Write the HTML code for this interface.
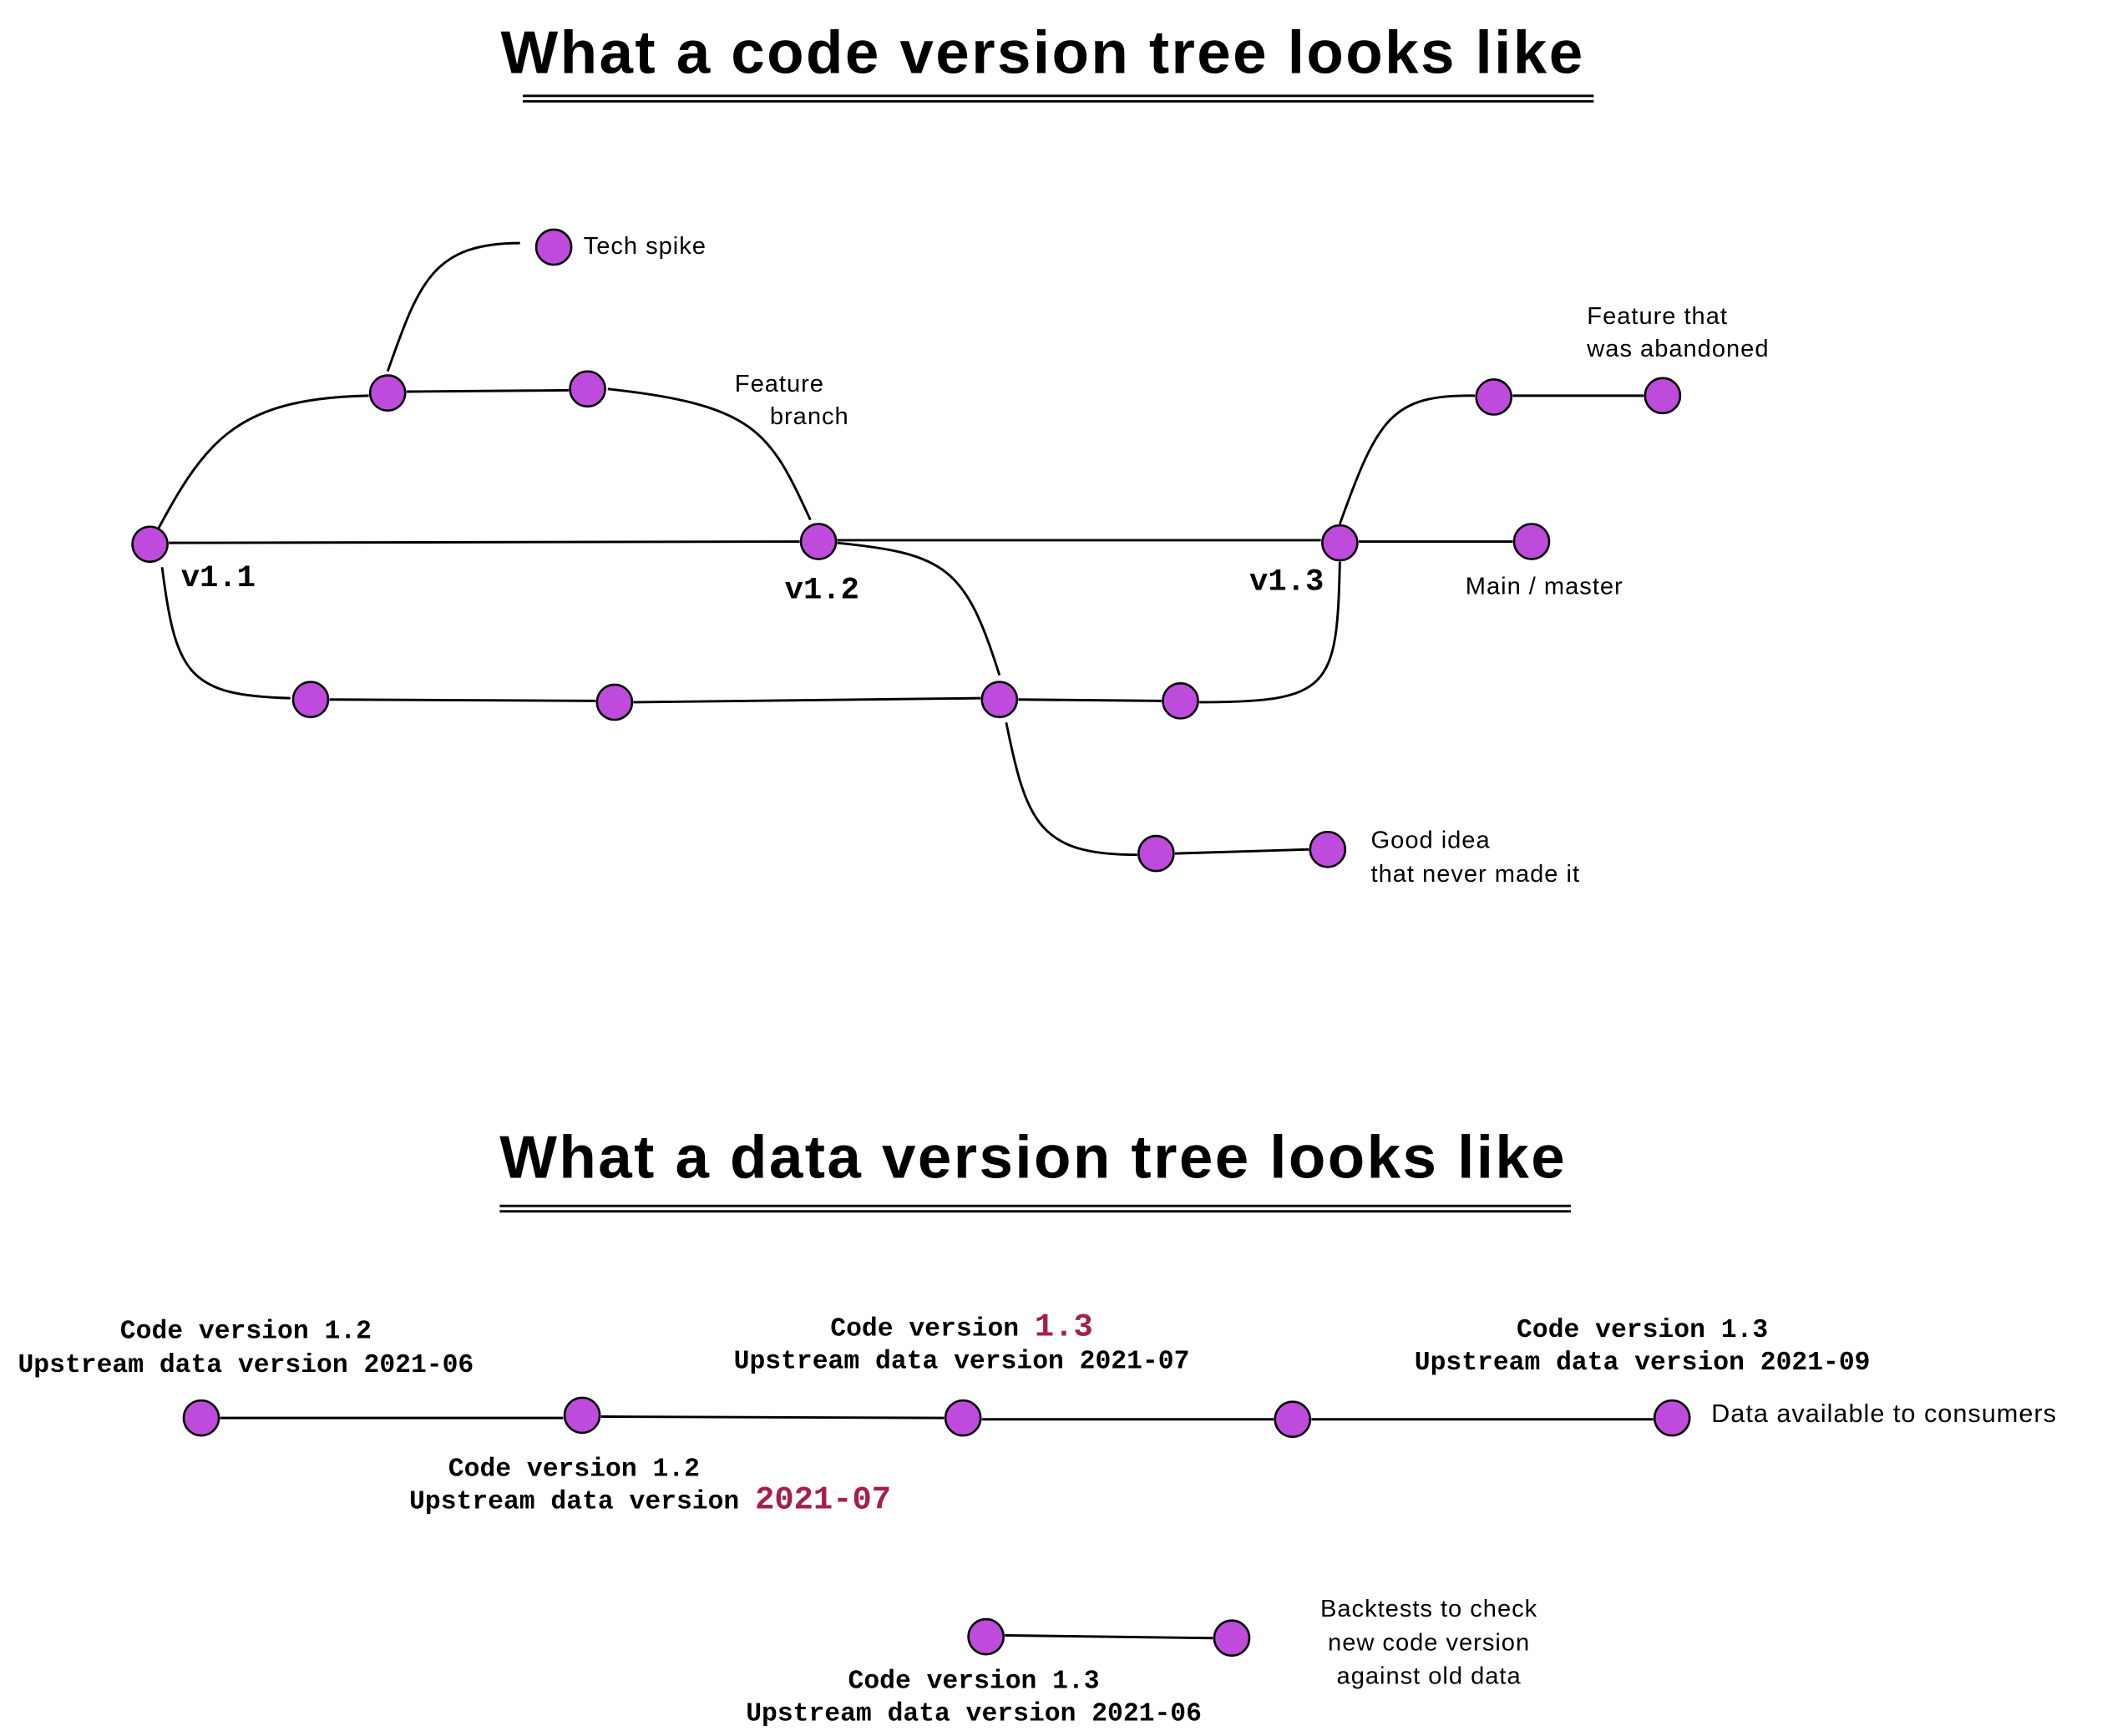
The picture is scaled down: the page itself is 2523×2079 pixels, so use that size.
<!DOCTYPE html>
<html><head><meta charset="utf-8"><style>
html,body{margin:0;padding:0;background:#fff}
svg{display:block}
.h{font-family:"Liberation Sans",sans-serif;font-size:18px;letter-spacing:0.6px;fill:#000}
.m{font-family:"Liberation Mono",monospace;font-size:19.4px;fill:#000;font-weight:bold}
.v{font-family:"Liberation Mono",monospace;font-size:23px;fill:#000;font-weight:bold}
.t{font-family:"Liberation Sans",sans-serif;font-size:45px;letter-spacing:1.5px;fill:#000;font-weight:bold}
.r{fill:#a61e4d;font-size:24px}
line,path{stroke:#000;stroke-width:1.8;fill:none}
circle{fill:#be4bdb;stroke:#000;stroke-width:1.6}
</style></head><body>
<svg width="2523" height="2079" viewBox="0 0 1560 1285.5" xmlns="http://www.w3.org/2000/svg">
<text class="t" x="772" y="54" text-anchor="middle">What a code version tree looks like</text>
<line x1="387" y1="71" x2="1180" y2="71"/><line x1="387" y1="75" x2="1180" y2="75"/>
<text class="t" x="765" y="872" text-anchor="middle">What a data version tree looks like</text>
<line x1="370" y1="893" x2="1163" y2="893"/><line x1="370" y1="897" x2="1163" y2="897"/>

<path d="M111,403 C150,330 170,295 273,293"/>
<path d="M287,275 C310,210 320,180 385,180"/>
<line x1="301" y1="290" x2="421" y2="289"/>
<path d="M450,288 C560,300 570,320 600,385"/>
<line x1="125" y1="402" x2="592" y2="401"/>
<line x1="620" y1="400" x2="978" y2="400"/>
<line x1="1006" y1="401" x2="1120" y2="401"/>
<path d="M992,388 C1020,310 1030,292 1092,293"/>
<line x1="1120" y1="293" x2="1217" y2="293"/>
<path d="M120,420 C130,500 140,515 215,517"/>
<line x1="244" y1="518" x2="441" y2="519"/>
<line x1="469" y1="520" x2="726" y2="517"/>
<line x1="754" y1="518" x2="860" y2="519"/>
<path d="M620,402 C700,410 715,420 740,500"/>
<path d="M888,520 C985,520 990,510 992,416"/>
<path d="M745,535 C760,610 770,633 842,633"/>
<line x1="870" y1="632" x2="969" y2="629"/>

<circle cx="410" cy="183" r="13"/>
<circle cx="287" cy="291" r="13"/>
<circle cx="435" cy="288" r="13"/>
<circle cx="111" cy="403" r="13"/>
<circle cx="606" cy="401" r="13"/>
<circle cx="992" cy="402" r="13"/>
<circle cx="1134" cy="401" r="13"/>
<circle cx="1106" cy="294" r="13"/>
<circle cx="1231" cy="293" r="13"/>
<circle cx="230" cy="518" r="13"/>
<circle cx="455" cy="520" r="13"/>
<circle cx="740" cy="518" r="13"/>
<circle cx="874" cy="519" r="13"/>
<circle cx="856" cy="632" r="13"/>
<circle cx="983" cy="629" r="13"/>

<text class="h" x="432" y="188">Tech spike</text>
<text class="h" x="544" y="290">Feature</text>
<text class="h" x="570" y="314">branch</text>
<text class="h" x="1175" y="240">Feature that</text>
<text class="h" x="1175" y="264">was abandoned</text>
<text class="h" x="1085" y="440">Main / master</text>
<text class="h" x="1015" y="628">Good idea</text>
<text class="h" x="1015" y="653">that never made it</text>
<text class="v" x="134" y="434">v1.1</text>
<text class="v" x="581" y="443">v1.2</text>
<text class="v" x="925" y="437">v1.3</text>

<line x1="163" y1="1050" x2="417" y2="1050"/>
<line x1="445" y1="1049" x2="699" y2="1050"/>
<line x1="727" y1="1051" x2="943" y2="1051"/>
<line x1="971" y1="1051" x2="1224" y2="1051"/>
<line x1="744" y1="1211" x2="898" y2="1213"/>
<circle cx="149" cy="1050" r="13"/>
<circle cx="431" cy="1048" r="13"/>
<circle cx="713" cy="1050" r="13"/>
<circle cx="957" cy="1051" r="13"/>
<circle cx="1238" cy="1050" r="13"/>
<circle cx="730" cy="1212" r="13"/>
<circle cx="912" cy="1213" r="13"/>

<text class="m" x="182" y="991" text-anchor="middle">Code version 1.2</text>
<text class="m" x="182" y="1016" text-anchor="middle">Upstream data version 2021-06</text>
<text class="m" x="712" y="989" text-anchor="middle">Code version <tspan class="r">1.3</tspan></text>
<text class="m" x="712" y="1013" text-anchor="middle">Upstream data version 2021-07</text>
<text class="m" x="1216" y="990" text-anchor="middle">Code version 1.3</text>
<text class="m" x="1216" y="1014" text-anchor="middle">Upstream data version 2021-09</text>
<text class="m" x="425" y="1093" text-anchor="middle">Code version 1.2</text>
<text class="m" x="303" y="1117">Upstream data version <tspan class="r">2021-07</tspan></text>
<text class="m" x="721" y="1250" text-anchor="middle">Code version 1.3</text>
<text class="m" x="721" y="1274" text-anchor="middle">Upstream data version 2021-06</text>
<text class="h" x="1267" y="1053" style="font-size:19px">Data available to consumers</text>
<text class="h" x="1058" y="1197" text-anchor="middle">Backtests to check</text>
<text class="h" x="1058" y="1222" text-anchor="middle">new code version</text>
<text class="h" x="1058" y="1247" text-anchor="middle">against old data</text>
</svg>
</body></html>
